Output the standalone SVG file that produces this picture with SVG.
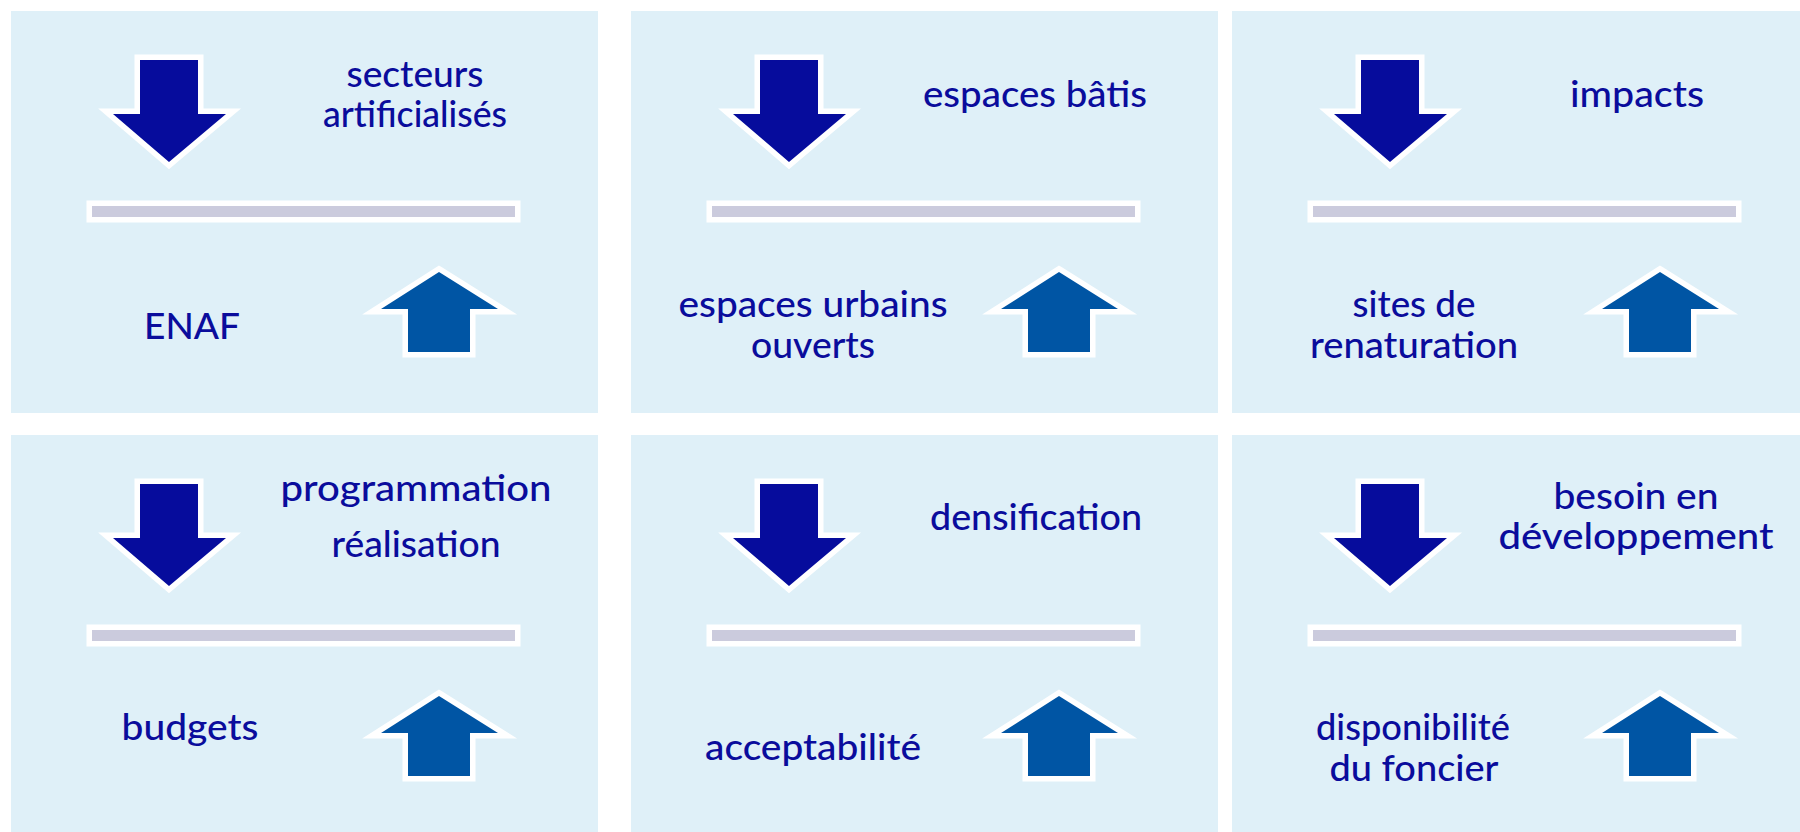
<svg xmlns="http://www.w3.org/2000/svg" xmlns:xlink="http://www.w3.org/1999/xlink" width="1800" height="832" viewBox="0 0 1800 832">
<style>
  .bg { fill: #dff0f8; }
  .down { fill: #060c9c; stroke: #ffffff; stroke-width: 11; paint-order: stroke; stroke-linejoin: miter; }
  .up { fill: #0055a4; stroke: #ffffff; stroke-width: 11; paint-order: stroke; stroke-linejoin: miter; }
  .bar { fill: #cbcbdd; stroke: #ffffff; stroke-width: 11; paint-order: stroke; }
  .lbl { font-family: Lato, "Open Sans", "Liberation Sans", sans-serif; font-size: 36px; font-weight: 500; fill: #0a0c9c; text-anchor: middle; }
</style>
<defs>
  <g id="motif">
    <polygon class="down" points="140,60 198,60 198,114 226,114 169,162 113,114 140,114"/>
    <rect class="bar" x="92" y="206" width="423" height="11"/>
    <polygon class="up" points="439,272 498,309 470,309 470,352 408,352 408,309 381,309"/>
  </g>
</defs>
<rect width="1800" height="832" fill="#ffffff"/>
<g id="connectors"></g>

<g id="panel-1">
  <rect class="bg" x="11" y="11" width="587" height="402"/>
  <use xlink:href="#motif"/>
  <text class="lbl" x="415" y="87" textLength="137" lengthAdjust="spacingAndGlyphs">secteurs</text>
  <text class="lbl" x="415" y="127" textLength="184" lengthAdjust="spacingAndGlyphs">artificialisés</text>
  <text class="lbl" x="192" y="339" textLength="96" lengthAdjust="spacingAndGlyphs">ENAF</text>
</g>

<g id="panel-2">
  <rect class="bg" x="631" y="11" width="587" height="402"/>
  <use xlink:href="#motif" transform="translate(620,0)"/>
  <text class="lbl" x="1035" y="107" textLength="224" lengthAdjust="spacingAndGlyphs">espaces bâtis</text>
  <text class="lbl" x="813" y="317" textLength="269" lengthAdjust="spacingAndGlyphs">espaces urbains</text>
  <text class="lbl" x="813" y="358" textLength="124" lengthAdjust="spacingAndGlyphs">ouverts</text>
</g>

<g id="panel-3">
  <rect class="bg" x="1232" y="11" width="590" height="402"/>
  <use xlink:href="#motif" transform="translate(1221,0)"/>
  <text class="lbl" x="1637" y="107" textLength="134" lengthAdjust="spacingAndGlyphs">impacts</text>
  <text class="lbl" x="1414" y="317" textLength="123" lengthAdjust="spacingAndGlyphs">sites de</text>
  <text class="lbl" x="1414" y="358" textLength="208" lengthAdjust="spacingAndGlyphs">renaturation</text>
</g>

<g id="panel-4">
  <rect class="bg" x="11" y="435" width="587" height="400"/>
  <use xlink:href="#motif" transform="translate(0,424)"/>
  <text class="lbl" x="416" y="501" textLength="271" lengthAdjust="spacingAndGlyphs">programmation</text>
  <text class="lbl" x="416" y="557" textLength="169" lengthAdjust="spacingAndGlyphs">réalisation</text>
  <text class="lbl" x="190" y="740" textLength="137" lengthAdjust="spacingAndGlyphs">budgets</text>
</g>

<g id="panel-5">
  <rect class="bg" x="631" y="435" width="587" height="400"/>
  <use xlink:href="#motif" transform="translate(620,424)"/>
  <text class="lbl" x="1036" y="530" textLength="212" lengthAdjust="spacingAndGlyphs">densification</text>
  <text class="lbl" x="813" y="760" textLength="216" lengthAdjust="spacingAndGlyphs">acceptabilité</text>
</g>

<g id="panel-6">
  <rect class="bg" x="1232" y="435" width="590" height="400"/>
  <use xlink:href="#motif" transform="translate(1221,424)"/>
  <text class="lbl" x="1636" y="509" textLength="165" lengthAdjust="spacingAndGlyphs">besoin en</text>
  <text class="lbl" x="1636" y="549" textLength="275" lengthAdjust="spacingAndGlyphs">développement</text>
  <text class="lbl" x="1413" y="740" textLength="194" lengthAdjust="spacingAndGlyphs">disponibilité</text>
  <text class="lbl" x="1414" y="781" textLength="169" lengthAdjust="spacingAndGlyphs">du foncier</text>
</g>
</svg>
